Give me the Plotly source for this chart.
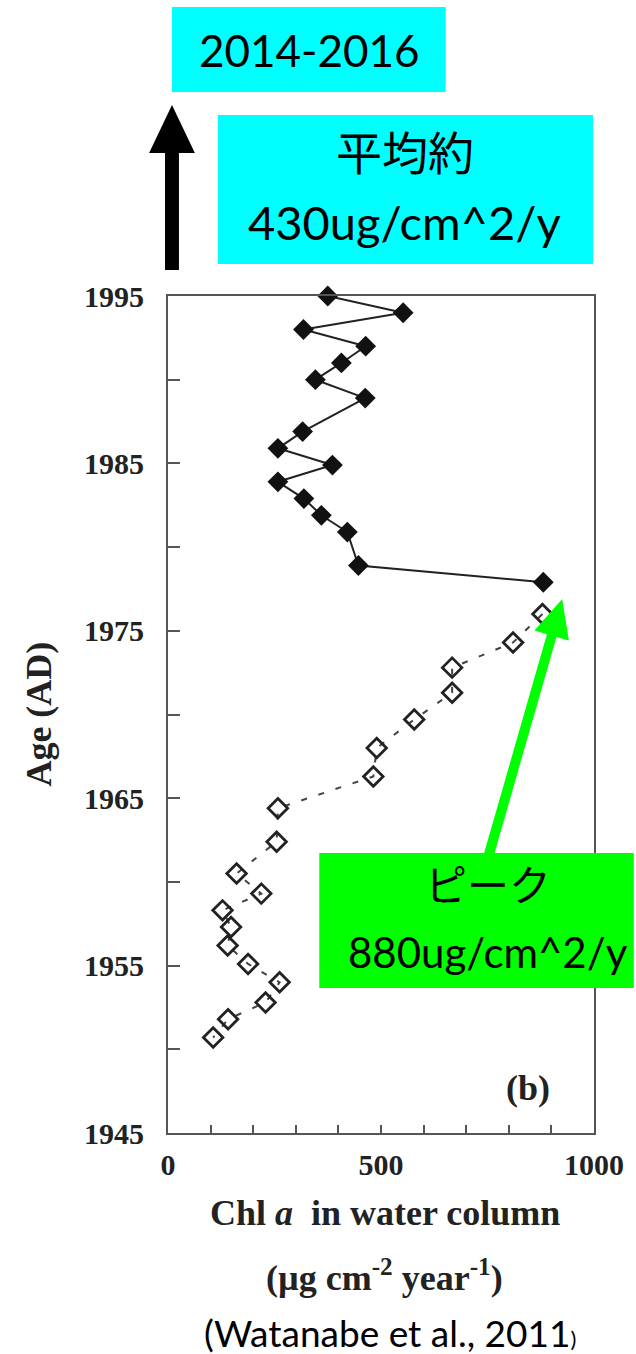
import numpy as np
import plotly.graph_objects as go

# ---------------- data ----------------
recent_age = [1995.0, 1994.0, 1993.0, 1992.0, 1991.0, 1990.0, 1988.9, 1986.9,
              1985.9, 1984.9, 1983.9, 1982.9, 1981.9, 1980.9, 1978.9, 1977.9]
recent_chl = [375, 552, 318, 464, 407, 346, 463, 316,
              258, 386, 258, 319, 360, 421, 447, 881]

older_age = [1976.0, 1974.3, 1972.8, 1971.3, 1969.7, 1968.0, 1966.3, 1964.4,
             1962.4, 1960.5, 1959.3, 1958.3, 1957.3, 1956.2, 1955.1, 1954.0,
             1952.8, 1951.8, 1950.7]
older_chl = [879, 810, 667, 667, 578, 490, 482, 258,
             255, 161, 219, 128, 148, 140, 188, 262,
             229, 141, 106]

x_tickvals = [0, 500, 1000]
x_ticktext = ["0", "500", "1000"]
x_minor_step = 100
y_tickvals = [1945, 1955, 1965, 1975, 1985, 1995]
y_ticktext = ["1945", "1955", "1965", "1975", "1985", "1995"]
y_minor_step = 5

# ---------------- layout geometry ----------------
W, H = 636, 1354
L, R, T, B = 168, 40, 296, 221


def px(X):
    return (X - L) / (W - L - R)


def py(Y):
    return (H - B - Y) / (H - T - B)


def poly_path(points):
    s = "M " + " L ".join(f"{px(a):.5f},{py(b):.5f}" for a, b in points) + " Z"
    return s


def arrow_points(x0, y0, x1, y1, half_shaft, half_head, head_len):
    d = np.array([x1 - x0, y1 - y0], dtype=float)
    u = d / np.linalg.norm(d)
    n = np.array([-u[1], u[0]])
    p0 = np.array([x0, y0], dtype=float)
    tip = np.array([x1, y1], dtype=float)
    base = tip - u * head_len
    pts = [p0 + n * half_shaft, base + n * half_shaft, base + n * half_head, tip,
           base - n * half_head, base - n * half_shaft, p0 - n * half_shaft]
    return [(p[0], p[1]) for p in pts]


SERIF = "Liberation Serif"
SANS = "Lato, 'Noto Sans CJK JP', sans-serif"

fig = go.Figure()

fig.add_trace(go.Scatter(
    x=older_chl, y=older_age, mode="lines+markers",
    line=dict(color="#444444", width=2, dash="6px,12px"),
    marker=dict(symbol="diamond-open", size=15, color="#222222",
                line=dict(width=2.8, color="#222222")),
    showlegend=False, cliponaxis=False))

fig.add_trace(go.Scatter(
    x=recent_chl, y=recent_age, mode="lines+markers",
    line=dict(color="#222222", width=2),
    marker=dict(symbol="diamond", size=16, color="#111111"),
    showlegend=False, cliponaxis=False))

axis_common = dict(showline=True, linecolor="#555555", linewidth=2, mirror=True,
                   ticks="inside", tickcolor="#555555", tickwidth=2,
                   showgrid=False, zeroline=False,
                   tickfont=dict(family=SERIF, size=30, color="#222222", weight=700))

fig.update_xaxes(range=[0, 1000], tickmode="array", tickvals=x_tickvals,
                 ticktext=x_ticktext, ticklen=8, ticklabelstandoff=4,
                 minor=dict(tick0=0, dtick=x_minor_step, ticks="inside", ticklen=8,
                            tickwidth=2, tickcolor="#555555", showgrid=False),
                 **axis_common)
fig.update_yaxes(range=[1945, 1995], tickmode="array", tickvals=y_tickvals,
                 ticktext=y_ticktext, ticklen=12, ticklabelstandoff=16,
                 minor=dict(tick0=1945, dtick=y_minor_step, ticks="inside", ticklen=12,
                            tickwidth=2, tickcolor="#555555", showgrid=False),
                 **axis_common)

shapes = [
    dict(type="rect", xref="paper", yref="paper", x0=px(172), x1=px(447),
         y0=py(92), y1=py(7), fillcolor="#00FFFF", line=dict(width=0), layer="above"),
    dict(type="rect", xref="paper", yref="paper", x0=px(218), x1=px(595),
         y0=py(264), y1=py(115), fillcolor="#00FFFF", line=dict(width=0), layer="above"),
    dict(type="rect", xref="paper", yref="paper", x0=px(320), x1=px(636),
         y0=py(988), y1=py(853), fillcolor="#00FF00", line=dict(width=0), layer="above"),
    dict(type="path", xref="paper", yref="paper",
         path=poly_path(arrow_points(172, 270, 172, 105, 7, 23, 48)),
         fillcolor="#000000", line=dict(width=0), layer="above"),
    dict(type="path", xref="paper", yref="paper",
         path=poly_path(arrow_points(490, 856, 564, 599, 5, 18, 38)),
         fillcolor="#00FF00", line=dict(width=0), layer="above"),
]


def ann(text, X, Y, size, family, color="#000000", weight=400, angle=0):
    return dict(text=text, x=px(X), y=py(Y), xref="paper", yref="paper",
                xanchor="center", yanchor="middle", showarrow=False,
                textangle=angle, borderpad=0,
                font=dict(family=family, size=size, color=color, weight=weight))


annotations = [
    ann("2014-2016", 310, 50, 44, SANS),
    ann("平均約", 406, 153, 46, SANS),
    ann("430ug/cm^2/y", 406, 222, 47, SANS),
    ann("ピーク", 490, 885, 42, SANS),
    ann("880ug/cm^2/y", 490, 952, 42, SANS),
    ann("(b)", 530, 1088, 36, SERIF, "#222222", 700),
    ann("Age (AD)", 38, 714, 36, SERIF, "#222222", 700, -90),
    ann("Chl <i>a</i>  in water column", 386, 1213, 36, SERIF, "#222222", 700),
    ann("(µg cm<sup>-2</sup> year<sup>-1</sup>)", 386, 1275, 36, SERIF, "#222222", 700),
    ann("(Watanabe et al., 2011<span style='font-size:22px'>)</span>", 391, 1332, 37, SANS),
]

fig.update_layout(
    width=W, height=H,
    margin=dict(l=L, r=R, t=T, b=B, pad=0),
    paper_bgcolor="#FFFFFF", plot_bgcolor="#FFFFFF",
    shapes=shapes, annotations=annotations,
    showlegend=False,
)

fig.write_html("out.html")
